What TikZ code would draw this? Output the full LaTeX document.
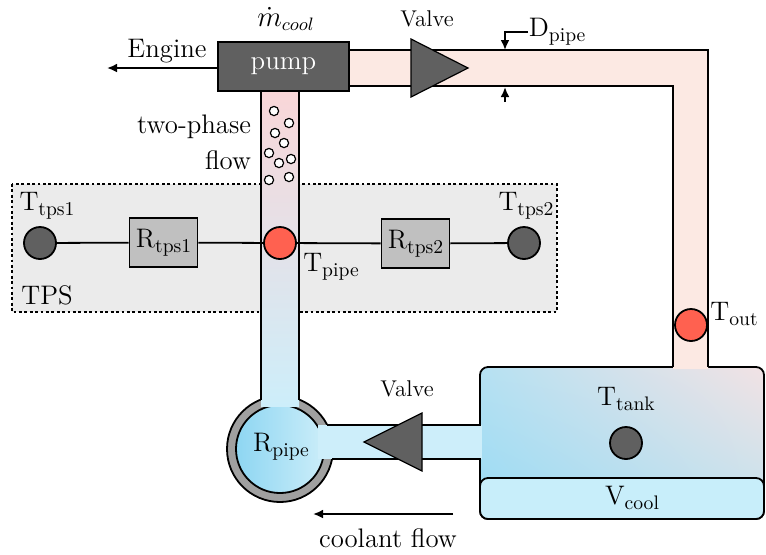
\documentclass[tikz,border=0pt]{standalone}
\usetikzlibrary{arrows.meta,shadings}

\definecolor{darkfill}{HTML}{606060}
\definecolor{pipepink}{HTML}{FCE9E3}
\definecolor{pinktop}{HTML}{F9D6D8}
\definecolor{pipeblue}{HTML}{CDEEFA}
\definecolor{sensorred}{HTML}{FF6150}
\definecolor{resgray}{HTML}{C0C0C0}
\definecolor{tpsgray}{HTML}{EBEBEB}
\definecolor{ringgray}{HTML}{A0A0A0}
\definecolor{innerL}{HTML}{8ED6F2}
\definecolor{innerR}{HTML}{CBEDF9}
\definecolor{vcool}{HTML}{C8EEFA}
\definecolor{tankUL}{HTML}{B6E1F2}
\definecolor{tankUR}{HTML}{F2E2E4}
\definecolor{tankLL}{HTML}{98DAF4}
\definecolor{tankLR}{HTML}{C2E2EE}

% symbol with an upright lowered index
\newcommand{\symsub}[2]{#1\raisebox{-0.45ex}{\fontsize{9.8}{10}\selectfont #2}}

\tikzset{
  txt/.style={font=\fontsize{13.4}{16}\selectfont, inner sep=0pt},
  smalltxt/.style={font=\fontsize{11.4}{13}\selectfont, inner sep=0pt},
  sensor/.style={circle, draw, minimum size=16pt, inner sep=0pt},
  resbox/.style={draw, fill=resgray, minimum width=34pt, minimum height=24.5pt,
                 inner sep=0pt, font=\fontsize{13.4}{16}\selectfont},
  tpsframe/.style={fill=tpsgray, line width=0.6pt, dash pattern=on 1.4pt off 1.3pt},
  valveshape/.style={fill=darkfill, draw=black, line width=0.6pt},
  bubble/.style={fill=white, draw=black, line width=0.6pt},
  arr/.style={-{Latex[length=5pt,width=4.4pt]}},
}

\begin{document}
\begin{tikzpicture}[x=0.5pt, y=-0.5pt, line width=0.9pt]
\useasboundingbox (0,0) rectangle (766,554);

% thermal protection panel
\draw[tpsframe] (12,184) rectangle (557,312);

% coolant tank
\shade[rounded corners=4pt, upper left=tankUL, upper right=tankUR,
       lower left=tankLL, lower right=tankLR] (480,367) rectangle (764,519);
\draw[rounded corners=4pt] (480,367) rectangle (764,519);
\draw[fill=vcool, rounded corners=4pt] (480,478) rectangle (764,519);

% return pipe from pump to tank
\fill[pipepink] (349,50) -- (708,50) -- (708,369) -- (673,369) -- (673,86) -- (349,86) -- cycle;
\draw (349,50) -- (708,50) -- (708,367);
\draw (349,86) -- (673,86) -- (673,367);

% pipe wall resistance
\draw[fill=ringgray] (280,449) circle (26.5pt);
\shade[left color=innerL, right color=innerR] (280,449) circle (22pt);
\draw (280,449) circle (22pt);

% feed pipe from tank
\fill[pipeblue] (318,425) rectangle (482,459);
\draw (327,425) -- (481,425);
\draw (332,459) -- (481,459);

% heated pipe through the panel
\shade[top color=pinktop, bottom color=pipeblue] (261,91) rectangle (299,406);
\draw (261,91) -- (261,400);
\draw (299,91) -- (299,400);

% vapour bubbles
\foreach \p in {(274,111),(289,123),(275,133),(284,143),(269,153),(291,159),(279,163),(269,180),(289,177)}
  \draw[bubble] \p circle (2.3pt);

% valves
\draw[valveshape] (411,39) -- (468,68) -- (411,97) -- cycle;
\draw[valveshape] (422,413) -- (364,442) -- (422,471) -- cycle;
\node[smalltxt] (valvetop) at (427,19) {Valve};
\node[smalltxt] (valvebot) at (407,389) {Valve};

% pump and engine outlet
\node[draw, fill=darkfill, minimum width=65.5pt, minimum height=24.5pt, inner sep=0pt,
      text=white, font=\fontsize{13.4}{16}\selectfont] (pump) at (283.5,66.5) {pump};
\node[txt] (mdot) at (286,19) {$\dot{m}_{cool}$};
\coordinate (engineend) at (107,68);
\draw[arr] (pump.west |- engineend) -- (engineend);
\node[txt] (engine) at (167,51) {Engine};

% pipe diameter
\node[txt, anchor=west] (dpipe) at (528,32) {\symsub{D}{pipe}};
\coordinate (dtop) at (505,50);
\coordinate (dbot) at (505,87);
\coordinate (dbotstart) at (505,102);
\draw[arr] (dpipe.west) -| (dtop);
\draw[arr] (dbotstart) -- (dbot);

% flow labels
\node[txt, anchor=east] (twophase) at (252,127) {two-phase};
\node[txt, anchor=east] (flowlbl) at (252,160) {flow};

% thermal network across the panel
\node[sensor, fill=darkfill] (Ttps1) at (40,243) {};
\node[resbox] (Rtps1) at (163.5,242.5) {\symsub{R}{tps1}};
\node[sensor, fill=sensorred] (Tpipe) at (280,243) {};
\node[resbox] (Rtps2) at (415.5,243.5) {\symsub{R}{tps2}};
\node[sensor, fill=darkfill] (Ttps2) at (524,243) {};
\draw (Ttps1) -- (Rtps1) -- (Tpipe) -- (Rtps2) -- (Ttps2);
\node[txt] (lTtps1) at (47,206) {\symsub{T}{tps1}};
\node[txt] (lTtps2) at (526,206) {\symsub{T}{tps2}};
\node[txt] (lTpipe) at (331,267) {\symsub{T}{pipe}};
\node[txt] (lTPS) at (47,295) {TPS};

% outlet and tank sensors
\node[sensor, fill=sensorred] (Tout) at (691,325) {};
\node[txt] (lTout) at (734,314) {\symsub{T}{out}};
\node[sensor, fill=darkfill] (Ttank) at (626,443) {};
\node[txt] (lTtank) at (626,399) {\symsub{T}{tank}};
\node[txt] (lVcool) at (632,498) {\symsub{V}{cool}};
\node[txt] (lRpipe) at (281,447) {\symsub{R}{pipe}};

% coolant flow direction
\coordinate (flowstart) at (453,514);
\coordinate (flowend) at (313,514);
\draw[arr] (flowstart) -- (flowend);
\node[txt] (coolant) at (388,538) {coolant flow};
\end{tikzpicture}
\end{document}
